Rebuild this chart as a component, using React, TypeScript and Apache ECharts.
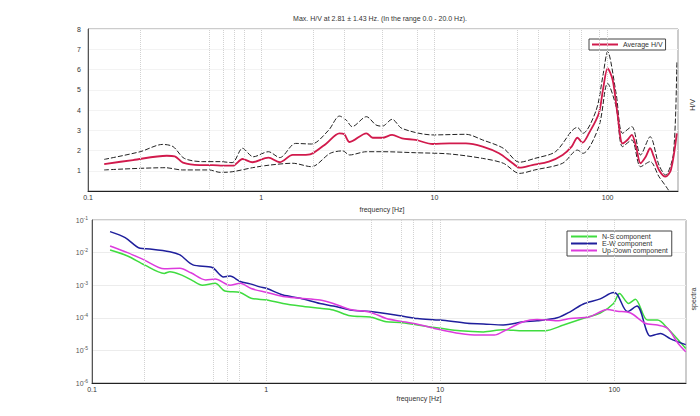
import React, { useEffect, useRef } from "react";
import * as echarts from "echarts";

// ---- Top chart: H/V ratio ----
const avgFreq = [0.124,0.182,0.285,0.317,0.353,0.44,0.525,0.60,0.686,0.78,0.89,1.10,1.28,1.52,1.74,1.95,2.38,2.83,3.02,3.24,4.05,4.4,5.0,5.7,6.5,7.8,9.8,12.2,15.2,19,23.6,28.3,31,36.7,45.8,55,62,67,71.6,78,89,94,100,107,114,122,130,138,146,155,166,176,185,198,216,232,251];
const avgHV = [1.33,1.53,1.74,1.71,1.40,1.28,1.28,1.25,1.25,1.58,1.42,1.65,1.42,1.78,1.78,1.83,2.35,2.85,2.8,2.42,2.85,2.63,2.63,2.77,2.6,2.52,2.32,2.35,2.35,2.19,1.86,1.37,1.15,1.28,1.45,1.78,2.19,2.63,2.39,2.85,3.83,4.99,6.06,5.48,3.83,2.35,2.52,2.77,2.19,1.37,1.69,2.11,1.69,1.04,0.71,1.04,2.85];

const upFreq = [0.124,0.2,0.27,0.31,0.36,0.46,0.58,0.68,0.78,0.9,1.1,1.28,1.58,1.95,2.45,2.83,3.1,3.35,4.05,4.6,5.0,5.7,6.5,9.8,15.2,19,25,31,38,50,67,72,86,94,100,112,122,138,155,176,198,216,240,251];
const upHV = [1.56,1.94,2.3,2.19,1.61,1.45,1.45,1.4,2.11,1.69,1.94,1.65,2.35,2.32,3.0,3.7,3.5,3.18,3.67,3.26,3.2,3.54,3.09,2.77,2.8,2.52,2.11,1.42,1.61,1.94,3.14,2.85,4.0,5.7,6.88,4.82,2.85,3.18,1.78,2.68,1.28,0.79,1.86,6.39];

const lowFreq = [0.124,0.28,0.35,0.5,0.58,0.68,0.89,1.12,1.52,1.95,2.5,2.95,3.24,4.05,5,7.8,12.2,19,25,31,38,55,67,72,89,100,112,122,138,155,176,198,218,243];
const lowHV = [1.04,1.15,1.04,1.04,0.92,0.95,1.15,1.28,1.37,1.2,1.86,1.98,1.78,1.94,1.94,1.89,1.83,1.61,1.37,0.87,1.04,1.37,2.02,1.86,3.18,5.32,4.16,2.19,2.52,1.2,1.45,0.71,0.21,-0.4];

const topGridFreqs = [0.2,0.5,0.6,0.7,0.8,1,2,3,5,8,10,30,40,60,70,90,100];

// ---- Bottom chart: spectra ----
const ewFreq = [0.127,0.155,0.189,0.215,0.28,0.32,0.38,0.49,0.57,0.62,0.71,0.81,0.92,1.01,1.25,1.57,2.04,2.43,3.04,3.96,5.9,7.4,10,14.3,17.7,23,30,36,47,56,66,83,99,104,119,135,161,184,209,257];
const ewSpec = [4.39e-2,2.88e-2,1.35e-2,1.29e-2,1.07e-2,8.5e-3,4.2e-3,3.5e-3,1.8e-3,1.9e-3,1.3e-3,1.1e-3,8.9e-4,7.9e-4,5.0e-4,4.0e-4,2.75e-4,2.3e-4,1.74e-4,1.55e-4,1.15e-4,9.5e-5,8.5e-5,6.8e-5,6.5e-5,6.0e-5,7.6e-5,8.1e-5,1.0e-4,1.55e-4,2.6e-4,3.8e-4,6.0e-4,5.2e-4,1.55e-4,2.3e-4,2.75e-5,3.3e-5,2.3e-5,1.5e-5];

const nsFreq = [0.127,0.16,0.2,0.26,0.28,0.33,0.38,0.43,0.51,0.58,0.71,0.82,1.01,1.25,1.57,2.04,2.43,3.04,3.96,4.9,5.9,7.4,10,13,17.7,23,30,40,51,66,83,99,107,121,132,155,177,202,257];
const nsSpec = [1.2e-2,7.9e-3,4.2e-3,2.3e-3,2.6e-3,2.0e-3,1.35e-3,1.0e-3,1.15e-3,6.6e-4,6.0e-4,4.0e-4,3.5e-4,2.75e-4,2.3e-4,1.95e-4,1.74e-4,1.15e-4,1.05e-4,7.6e-5,7.2e-5,6.0e-5,4.8e-5,4.0e-5,3.7e-5,4.3e-5,4.0e-5,4.0e-5,6.0e-5,9.5e-5,1.4e-4,2.75e-4,5.6e-4,2.75e-4,3.7e-4,8.5e-5,8.5e-5,4.8e-5,1.15e-5];

const udFreq = [0.127,0.16,0.2,0.26,0.32,0.37,0.45,0.51,0.62,0.71,0.82,1.01,1.25,1.57,2.04,2.43,3.04,3.96,4.9,5.9,7.4,10,13,16.5,20.4,24,30,36,47,56,72,91,104,124,150,177,202,232,257];
const udSpec = [1.6e-2,1.0e-2,5.9e-3,3.2e-3,3.3e-3,2.4e-3,1.45e-3,1.55e-3,1.0e-3,1.15e-3,7.9e-4,6.0e-4,4.5e-4,4.0e-4,3.5e-4,2.75e-4,1.8e-4,1.48e-4,9.5e-5,7.9e-5,6.3e-5,4.3e-5,3.3e-5,2.95e-5,2.95e-5,4.3e-5,7.6e-5,8.9e-5,8.1e-5,9.5e-5,1.07e-4,1.8e-4,1.6e-4,1.4e-4,6.8e-5,6.0e-5,4.8e-5,1.65e-5,9.1e-6];

const bottomGridFreqs = [0.2,0.5,0.6,0.7,1,4,6,7,9,10,40,70,100];

const titleText = "Max. H/V at 2.81 \u00b1 1.43 Hz. (In the range 0.0 - 20.0 Hz).";

const pair = (xs: number[], ys: number[]) => xs.map((x, i) => [x, ys[i]]);

const FONT = "Liberation Sans";

export default function App() {
  const ref = useRef<HTMLDivElement>(null);
  useEffect(() => {
    if (!ref.current) return;
    const chart = echarts.init(ref.current, null, { renderer: "svg" });
    const vGrid = (freqs: number[]) => ({
      silent: true,
      symbol: "none",
      label: { show: false },
      lineStyle: { color: "#d2d2d2", type: "dotted", width: 1 },
      data: freqs.map((f) => ({ xAxis: f })),
    });
    const axisLabel = { fontSize: 7, color: "#333", fontFamily: FONT };
    const option: any = {
      animation: false,
      backgroundColor: "#fff",
      textStyle: { fontFamily: FONT },
      grid: [
        { left: 88, right: 22, top: 29, height: 162, show: true, borderColor: "#999", borderWidth: 1 },
        { left: 92, right: 14, top: 220, height: 163, show: true, borderColor: "#999", borderWidth: 1 },
      ],
      xAxis: [
        {
          type: "log", logBase: 10, gridIndex: 0, min: 0.1, max: 255,
          axisLine: { lineStyle: { color: "#222" } },
          axisTick: { show: false },
          splitLine: { show: false },
          axisLabel: { ...axisLabel, margin: 3, showMaxLabel: false },
        },
        {
          type: "log", logBase: 10, gridIndex: 1, min: 0.1, max: 258,
          axisLine: { lineStyle: { color: "#222" } },
          axisTick: { show: false },
          splitLine: { show: false },
          axisLabel: { ...axisLabel, margin: 3, showMaxLabel: false },
        },
      ],
      yAxis: [
        {
          type: "value", gridIndex: 0, min: 0, max: 8, interval: 1,
          axisLine: { show: true, lineStyle: { color: "#555" } },
          axisTick: { show: false },
          splitLine: { show: true, lineStyle: { color: "#f3f3f3" } },
          axisLabel: { ...axisLabel, margin: 7, formatter: (v: number) => (v === 0 ? "" : String(v)) },
        },
        {
          type: "log", logBase: 10, gridIndex: 1, min: 1e-6, max: 1e-1,
          axisLine: { show: true, lineStyle: { color: "#555" } },
          axisTick: { show: false },
          splitLine: { show: true, lineStyle: { color: "#ececec" } },
          axisLabel: {
            ...axisLabel,
            margin: 4,
            formatter: (v: number) => `{b|10}{s|${Math.round(Math.log10(v))}}`,
            rich: {
              b: { fontSize: 7, color: "#555", fontFamily: FONT },
              s: { fontSize: 5, color: "#555", fontFamily: FONT, verticalAlign: "top", padding: [0, 0, 5, 0] },
            },
          },
        },
      ],
      legend: [
        {
          data: ["Average H/V"],
          left: 589, top: 39,
          orient: "vertical",
          icon: "rect",
          itemWidth: 26, itemHeight: 2, itemGap: 0,
          padding: [2, 3, 2, 3],
          borderColor: "#444", borderWidth: 1,
          backgroundColor: "#fff",
          textStyle: { fontSize: 7, color: "#333", fontFamily: FONT, lineHeight: 7 },
        },
        {
          data: ["N-S component", "E-W component", "Up-Down component"],
          left: 567, top: 231,
          orient: "vertical",
          icon: "rect",
          itemWidth: 26, itemHeight: 2, itemGap: 0,
          padding: [2, 4, 2, 4],
          borderColor: "#444", borderWidth: 1,
          backgroundColor: "#fff",
          textStyle: { fontSize: 7, color: "#333", fontFamily: FONT, lineHeight: 7 },
        },
      ],
      series: [
        {
          name: "upper", type: "line", xAxisIndex: 0, yAxisIndex: 0,
          data: pair(upFreq, upHV), showSymbol: false, smooth: 0.3,
          lineStyle: { color: "#222", width: 1, type: [5, 2] }, itemStyle: { color: "#222" },
          markLine: vGrid(topGridFreqs), z: 2,
        },
        {
          name: "lower", type: "line", xAxisIndex: 0, yAxisIndex: 0,
          data: pair(lowFreq, lowHV), showSymbol: false, smooth: 0.3,
          lineStyle: { color: "#222", width: 1, type: [5, 2] }, itemStyle: { color: "#222" }, z: 2,
        },
        {
          name: "Average H/V", type: "line", xAxisIndex: 0, yAxisIndex: 0,
          data: pair(avgFreq, avgHV), showSymbol: false, smooth: 0.3,
          lineStyle: { color: "#d11a4c", width: 1.8 }, itemStyle: { color: "#d11a4c" }, z: 3,
        },
        {
          name: "N-S component", type: "line", xAxisIndex: 1, yAxisIndex: 1,
          data: pair(nsFreq, nsSpec), showSymbol: false, smooth: 0.3,
          lineStyle: { color: "#3fdc3f", width: 1.5 }, itemStyle: { color: "#3fdc3f" },
          markLine: vGrid(bottomGridFreqs),
        },
        {
          name: "E-W component", type: "line", xAxisIndex: 1, yAxisIndex: 1,
          data: pair(ewFreq, ewSpec), showSymbol: false, smooth: 0.3,
          lineStyle: { color: "#1f1f9c", width: 1.5 }, itemStyle: { color: "#1f1f9c" },
        },
        {
          name: "Up-Down component", type: "line", xAxisIndex: 1, yAxisIndex: 1,
          data: pair(udFreq, udSpec), showSymbol: false, smooth: 0.3,
          lineStyle: { color: "#dd3bdd", width: 1.5 }, itemStyle: { color: "#dd3bdd" },
        },
      ],
      graphic: [
        { type: "text", x: 380, y: 18, style: { text: titleText, fontSize: 7, fill: "#333", fontFamily: FONT, align: "center", verticalAlign: "middle" } },
        { type: "text", x: 382, y: 209, style: { text: "frequency [Hz]", fontSize: 7, fill: "#333", fontFamily: FONT, align: "center", verticalAlign: "middle" } },
        { type: "text", x: 419, y: 398, style: { text: "frequency [Hz]", fontSize: 7, fill: "#333", fontFamily: FONT, align: "center", verticalAlign: "middle" } },
        { type: "text", x: 692, y: 105, rotation: Math.PI / 2, style: { text: "H/V", fontSize: 7, fill: "#333", fontFamily: FONT, align: "center", verticalAlign: "middle" } },
        { type: "text", x: 693, y: 299, rotation: Math.PI / 2, style: { text: "spectra", fontSize: 7, fill: "#333", fontFamily: FONT, align: "center", verticalAlign: "middle" } },
      ],
    };
    chart.setOption(option);
    return () => chart.dispose();
  }, []);
  return <div ref={ref} style={{ position: "fixed", left: 0, top: 0, width: 700, height: 416 }} />;
}
